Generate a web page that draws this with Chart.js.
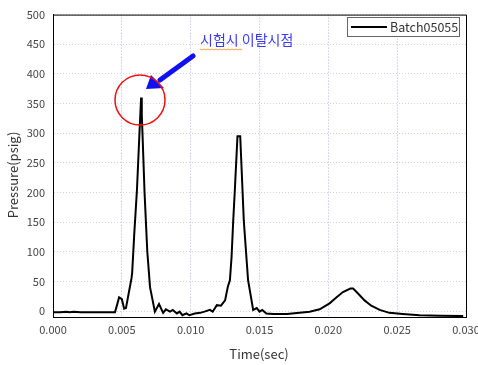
<!DOCTYPE html>
<html>
<head>
<meta charset="utf-8">
<script src="https://cdn.jsdelivr.net/npm/chart.js@4"></script>
<style>
  html, body { margin: 0; padding: 0; background: #fff; }
  #wrap { width: 478px; height: 365px; }
</style>
</head>
<body>
<div id="wrap"><canvas id="myChart" width="478" height="365"></canvas></div>
<script>
/* DATA */
const times = [
  0.0000, 0.0005, 0.0010, 0.0012, 0.0015, 0.0020, 0.0025, 0.0030, 0.0035, 0.0040, 0.0045,
  0.00465, 0.0048, 0.0050, 0.00517, 0.0053, 0.0055, 0.0057, 0.00575, 0.0059, 0.0061,
  0.00628, 0.0064, 0.00645, 0.0065, 0.00665, 0.00685, 0.00705, 0.0074, 0.0077, 0.0080,
  0.0082, 0.0085, 0.0087, 0.0090, 0.0092, 0.0094, 0.0097, 0.0099, 0.0103, 0.0107,
  0.0110, 0.0114, 0.0116, 0.0119, 0.0122, 0.0125, 0.0127, 0.01285, 0.01297, 0.01309,
  0.0132, 0.0134, 0.0136, 0.0137, 0.01386, 0.01417, 0.01454, 0.0148, 0.0150, 0.0152,
  0.0155, 0.0160, 0.0170, 0.0179, 0.01864, 0.01937, 0.02009, 0.02058, 0.02106, 0.0216,
  0.0218, 0.02214, 0.02263, 0.02312, 0.02373, 0.02444, 0.0254, 0.02662, 0.0281, 0.0298
];
const pressure = [
  -2, -2, -1, -2, -1, -2, -2, -2, -2, -2, -2,
  10, 23, 20, 4, 5, 30, 55, 64, 129, 205,
  300, 360, 330, 300, 200, 100, 40, -1, 12, -3,
  3, -1, 2, -4, -1, -7, -4, -7, -4, -3,
  -1, 2, -1, 10, 9, 18, 41, 52, 91, 152,
  200, 295, 295, 240, 152, 52, 2, 5, -1, 2,
  -4, -5, -5, -3, -1, 3, 13, 23, 32, 38,
  38, 30, 18, 9, 2, -3, -5, -7, -8, -8.4
];
const xTicks = [0, 0.005, 0.010, 0.015, 0.020, 0.025, 0.030];
const yTicks = [0, 50, 100, 150, 200, 250, 300, 350, 400, 450, 500];
const seriesName = 'Batch05055';

const FONT = '"Noto Sans CJK KR", "Noto Sans", sans-serif';

/* frame, titles, legend and annotation drawn on top */
const extras = {
  id: 'extras',
  afterDraw(chart) {
    const c = chart.ctx;
    const a = chart.chartArea;
    c.save();
    // frame top + right
    c.strokeStyle = '#000';
    c.lineWidth = 1;
    c.beginPath();
    c.moveTo(a.left, a.top + 0.5);
    c.lineTo(a.right + 0.5, a.top + 0.5);
    c.lineTo(a.right + 0.5, a.bottom);
    c.stroke();

    // axis titles
    c.fillStyle = '#333';
    c.font = '13px ' + FONT;
    c.textAlign = 'center';
    c.textBaseline = 'middle';
    c.fillText('Time(sec)', 259, 354);
    c.save();
    c.translate(13, 175);
    c.rotate(-Math.PI / 2);
    c.fillText('Pressure(psig)', 0, 0);
    c.restore();

    // legend
    c.fillStyle = '#fff';
    c.fillRect(347, 17, 112, 19);
    c.strokeStyle = '#666';
    c.strokeRect(347.5, 17.5, 112, 19);
    c.strokeStyle = '#000';
    c.lineWidth = 2;
    c.beginPath();
    c.moveTo(351, 27);
    c.lineTo(387, 27);
    c.stroke();
    c.fillStyle = '#333';
    c.font = '12.5px ' + FONT;
    c.textAlign = 'left';
    c.fillText(seriesName, 390, 27);

    // annotation text
    c.fillStyle = '#3a3af0';
    c.font = '14px ' + FONT;
    c.fillText('시험시 이탈시점', 200, 40);
    // spell-check squiggle
    c.strokeStyle = '#f0a040';
    c.lineWidth = 1;
    c.beginPath();
    for (let x = 200; x <= 242; x += 2) {
      const y = 49 + ((x / 2) % 2 ? 1 : 0);
      if (x === 200) c.moveTo(x, y); else c.lineTo(x, y);
    }
    c.stroke();

    // arrow
    c.strokeStyle = '#1010f0';
    c.fillStyle = '#1010f0';
    c.lineWidth = 5;
    c.lineCap = 'round';
    c.beginPath();
    c.moveTo(193, 56);
    c.lineTo(160, 80);
    c.stroke();
    c.beginPath();
    c.moveTo(146, 89);
    c.lineTo(151, 75);
    c.lineTo(164, 88);
    c.closePath();
    c.fill();

    // red circle
    c.strokeStyle = '#f01010';
    c.lineWidth = 1.5;
    c.beginPath();
    c.arc(140, 100, 25, 0, Math.PI * 2);
    c.stroke();
    c.restore();
  }
};

const ctx = document.getElementById('myChart').getContext('2d');

const chart = new Chart(ctx, {
  type: 'scatter',
  data: {
    datasets: [{
      label: seriesName,
      data: times.map((t, i) => ({ x: t, y: pressure[i] })),
      showLine: true,
      borderColor: '#000',
      borderWidth: 2,
      pointRadius: 0,
      tension: 0,
    }],
  },
  options: {
    responsive: false,
    animation: false,
    layout: { padding: { top: 13, right: 0, left: 0, bottom: 0 } },
    plugins: {
      legend: { display: false },
      tooltip: { enabled: false },
    },
    scales: {
      x: {
        type: 'linear',
        min: 0,
        max: 0.03,
        afterBuildTicks: s => { s.ticks = xTicks.map(v => ({ value: v })); },
        afterFit: s => { s.height = 48; s.paddingRight = 12; s.paddingLeft = 0; },
        ticks: {
          padding: 6,
          color: '#444',
          font: { family: FONT, size: 11 },
          maxRotation: 0,
          callback: v => v.toFixed(3),
        },
        grid: {
          color: '#b4b4f0',
          drawTicks: false,
        },
        border: { color: '#000', width: 1, dash: [1, 2] },
      },
      y: {
        min: -10,
        max: 500,
        afterBuildTicks: s => { s.ticks = yTicks.map(v => ({ value: v })); },
        afterFit: s => { s.width = 53; },
        ticks: {
          padding: 8,
          color: '#444',
          font: { family: FONT, size: 11 },
        },
        grid: {
          color: '#d0d0f2',
          drawTicks: false,
        },
        border: { color: '#000', width: 1, dash: [1, 2] },
      },
    },
  },
  plugins: [extras],
});
</script>
</body>
</html>
